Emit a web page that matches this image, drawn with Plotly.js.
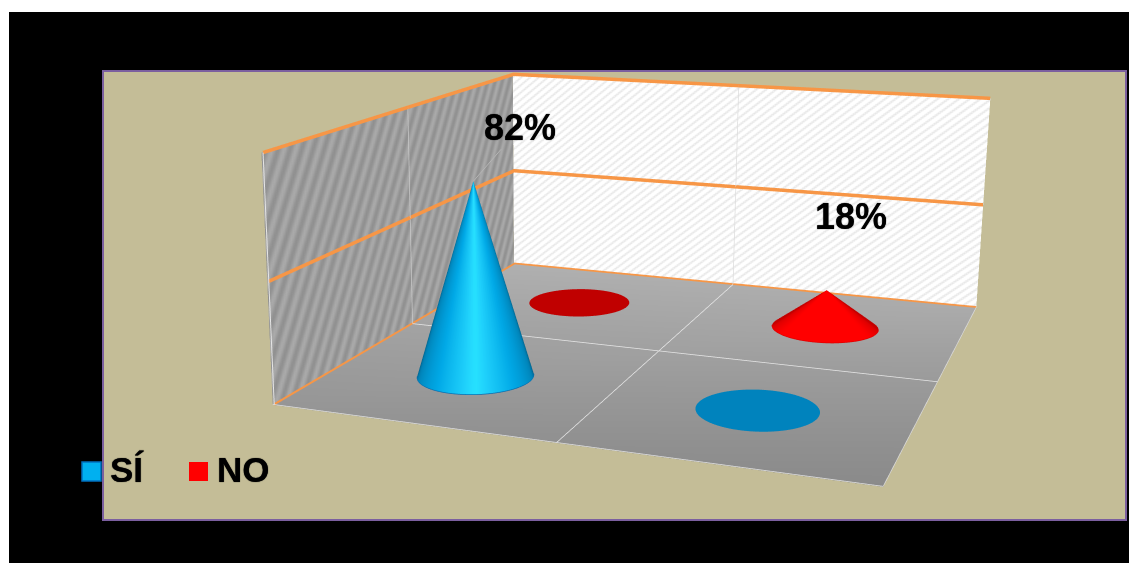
<!DOCTYPE html>
<html><head><meta charset="utf-8">
<script src="https://cdn.plot.ly/plotly-3.0.1.min.js"></script>
<style>
html,body{margin:0;padding:0;width:1129px;height:563px;overflow:hidden;background:#fff}
#chart{position:absolute;left:-149px;top:-399px;width:1400px;height:1359px}
</style></head><body><div id="chart"></div>
<script>
// ---- chart data ----
const seriesNames = ['SÍ', 'NO'];
const siValues = [82, 0];
const noValues = [0, 18];
const categoryCentres = [0.5, 1.5];
const seriesRows = [0.5, 1.5];       // SÍ = front row, NO = back row
const axisMax = 100;
const gridStep = 50;

// ---- page frame (the gl view is wider than the window to get the long lens) ----
const W = 1400, H = 1359, L = -149, T = -399;
const px = x => (x - L) / W;
const py = y => 1 - (y - T) / H;

const eyeData = {x: 2.708, y: -4.287};
const RX = 0.2, RY = 0.204, SEG = 96;
const traces = [];

function hex(c){return [parseInt(c.slice(1,3),16),parseInt(c.slice(3,5),16),parseInt(c.slice(5,7),16)];}
function ramp(stops,t){
  for(let i=1;i<stops.length;i++){ if(t<=stops[i][0]){
    const a=stops[i-1],b=stops[i],k=(t-a[0])/(b[0]-a[0]||1),A=hex(a[1]),B=hex(b[1]);
    return 'rgb('+A.map((v,j)=>Math.round(v+(B[j]-v)*k)).join(',')+')';}}
  return stops[stops.length-1][1];
}
const flatLight={ambient:1,diffuse:0,specular:0,roughness:1,fresnel:0};

function wall(xf,yf,valf,nu,nv,scale){
  const X=[],Y=[],Z=[],C=[];
  for(let j=0;j<=nv;j++){const xr=[],yr=[],zr=[],cr=[];
    for(let i=0;i<=nu;i++){const u=i/nu,v=j/nv;
      xr.push(xf(u));yr.push(yf(u));zr.push(v*axisMax);cr.push(valf(u,v));}
    X.push(xr);Y.push(yr);Z.push(zr);C.push(cr);}
  traces.push({type:'surface',x:X,y:Y,z:Z,surfacecolor:C,cmin:0,cmax:1,colorscale:scale,
    showscale:false,hoverinfo:'skip',lighting:flatLight});
}
// left wall, dark hatch
wall(u=>0,u=>2*u,(u,v)=>0.5+0.5*Math.sin(2*Math.PI*(u*245-0.35*v*215)/10),140,110,
  [[0,'#8f8f8f'],[1,'#ababab']]);
// back wall, light hatch
wall(u=>2*u,u=>2,(u,v)=>0.5+0.5*Math.sin(2*Math.PI*(u*470-1.2*v*200)/9),300,120,
  [[0,'#e2e2e2'],[0.55,'#ffffff'],[1,'#ffffff']]);
// floor
traces.push({type:'mesh3d',x:[0,2,0,2],y:[2,2,0,0],z:[0,0,0,0],i:[0,1],j:[1,3],k:[2,2],
  vertexcolor:['#b0b0b0','#ababab','#969696','#8a8a8a'],lighting:flatLight,hoverinfo:'skip',flatshading:false});

function line(xs,ys,zs,color,width){
  traces.push({type:'scatter3d',mode:'lines',x:xs,y:ys,z:zs,line:{color:color,width:width},
    hoverinfo:'skip',showlegend:false});
}
const e=0.006, f=0.25;
// floor grid and edges
line([1,1],[2-e,0],[f,f],'#e6e6e6',1.5);
line([0,2],[1,1],[f,f],'#e6e6e6',1.5);
line([0,2],[0,0],[f,f],'#e0e0e0',1.5);
line([2,2],[0,2],[f,f],'#d8d8d8',1.5);
// wall verticals
line([e,e],[1,1],[0,axisMax],'#c8c8c8',1.5);
line([1,1],[2-e,2-e],[0,axisMax],'#dddddd',1.5);
line([e,e],[0,0],[0,axisMax],'#e4e4e4',2);
// orange gridlines
for(let z=0;z<=axisMax;z+=gridStep){
  const w=z===0?5:7, zz=z===0?f:z;
  line([e,e,2],[0,2-e,2-e],[zz,zz,zz],'#f79646',w);
}

function disc(cx,cy,color){
  const X=[cx],Y=[cy],Z=[0.5],I=[],J=[],K=[];
  for(let s=0;s<SEG;s++){const a=2*Math.PI*s/SEG;
    X.push(cx+RX*Math.cos(a));Y.push(cy+RY*Math.sin(a));Z.push(0.5);
    I.push(0);J.push(s+1);K.push((s+1)%SEG+1);}
  traces.push({type:'mesh3d',x:X,y:Y,z:Z,i:I,j:J,k:K,color:color,lighting:flatLight,hoverinfo:'skip'});
}
function cone(cx,cy,val,stops,edge){
  const X=[],Y=[],Z=[],I=[],J=[],K=[],C=[];
  const toEye=Math.atan2(eyeData.y-cy,eyeData.x-cx);
  for(let s=0;s<=SEG;s++){const a=2*Math.PI*s/SEG;
    let d=Math.abs(Math.atan2(Math.sin(a-toEye),Math.cos(a-toEye)))/(Math.PI/2);
    const col=ramp(stops,Math.min(1,d));
    X.push(cx+RX*Math.cos(a),cx);Y.push(cy+RY*Math.sin(a),cy);Z.push(0.5,val);C.push(col,col);
    if(s<SEG){const n=2*s;I.push(n,n+2);J.push(n+2,n+3);K.push(n+1,n+1);}
  }
  traces.push({type:'mesh3d',x:X,y:Y,z:Z,i:I,j:J,k:K,vertexcolor:C,lighting:flatLight,hoverinfo:'skip'});
  const ex=[],ey=[],ez=[];
  for(let s=0;s<=SEG;s++){const a=2*Math.PI*s/SEG;
    const q=Math.abs(Math.atan2(Math.sin(a-toEye),Math.cos(a-toEye)));
    if(q<=Math.PI/2+0.05){ex.push(cx+RX*Math.cos(a));ey.push(cy+RY*Math.sin(a));ez.push(0.6);}
    else{ex.push(null);ey.push(null);ez.push(null);}
  }
  line(ex,ey,ez,edge,1.5);
}
const blueStops=[[0,'#27e2ff'],[0.12,'#1fd0fb'],[0.45,'#00a8e6'],[0.85,'#0083b8'],[1,'#00618a']];
const redStops=[[0,'#ff0000'],[0.6,'#ff0000'],[0.92,'#dd0000'],[1,'#c40000']];
const seriesValues=[siValues,noValues];
const seriesStops=[blueStops,redStops];
const discColours=['#0083bd','#c00000'];
const edgeColours=['#0a6fb0','#e00000'];
const sceneNotes=[];
seriesValues.forEach((vals,r)=>vals.forEach((v,c)=>{
  if(v>0){
    cone(categoryCentres[c],seriesRows[r],v,seriesStops[r],edgeColours[r]);
  } else disc(categoryCentres[c],seriesRows[r],discColours[r]);
}));
const heavy='0 0 1px #000';
const labelFont={family:'Liberation Sans, Arial, sans-serif',size:36,color:'#000',shadow:heavy};
sceneNotes.push({x:categoryCentres[0],y:seriesRows[0],z:siValues[0],text:'<b>'+siValues[0]+'%</b>',
  font:labelFont,showarrow:true,arrowhead:0,arrowwidth:1,arrowcolor:'#b5b5b5',ax:47,ay:-54,
  xanchor:'center',yanchor:'middle'});
sceneNotes.push({x:categoryCentres[1],y:seriesRows[1],z:noValues[1],text:'<b>'+noValues[1]+'%</b>',
  font:labelFont,showarrow:false,xshift:24,yshift:74,xanchor:'center',yanchor:'middle'});

const hidden={visible:false,showgrid:false,zeroline:false,showbackground:false,showticklabels:false,
  showspikes:false,autorange:false};
const legendFont={family:'Liberation Sans, Arial, sans-serif',size:35,color:'#000',shadow:heavy};
const layout={
  width:W,height:H,margin:{l:0,r:0,t:0,b:0},paper_bgcolor:'#fff',showlegend:false,
  scene:{
    domain:{x:[0,1],y:[0,1]},bgcolor:'rgba(0,0,0,0)',aspectmode:'manual',
    aspectratio:{x:1,y:1.035,z:0.42},
    xaxis:Object.assign({range:[0,2]},hidden),
    yaxis:Object.assign({range:[0,2]},hidden),
    zaxis:Object.assign({range:[0,axisMax]},hidden),
    camera:{projection:{type:'perspective'},eye:{x:0.854,y:-2.736,z:0.662},
      center:{x:-0.199,y:-0.030,z:-0.088},up:{x:0.012,y:0,z:1}},
    annotations:sceneNotes
  },
  shapes:[
    {type:'rect',xref:'paper',yref:'paper',x0:px(9),x1:px(1135),y0:py(12),y1:py(570),fillcolor:'#000',line:{width:0},layer:'below'},
    {type:'rect',xref:'paper',yref:'paper',x0:px(103),x1:px(1126),y0:py(71),y1:py(520),fillcolor:'#c4bd97',line:{color:'#7b5f9f',width:2},layer:'below'},
    {type:'rect',xref:'paper',yref:'paper',x0:px(82),x1:px(101),y0:py(462),y1:py(481),fillcolor:'#00b0f0',line:{color:'#0070c0',width:1.5},layer:'below'},
    {type:'rect',xref:'paper',yref:'paper',x0:px(189),x1:px(208),y0:py(462),y1:py(481),fillcolor:'#ff0000',line:{width:0},layer:'below'}
  ],
  annotations:[
    {xref:'paper',yref:'paper',x:px(108),y:py(469),xanchor:'left',yanchor:'middle',showarrow:false,text:'<b>'+seriesNames[0]+'</b>',font:legendFont},
    {xref:'paper',yref:'paper',x:px(215),y:py(469),xanchor:'left',yanchor:'middle',showarrow:false,text:'<b>'+seriesNames[1]+'</b>',font:legendFont}
  ]
};
Plotly.newPlot('chart',traces,layout,{displayModeBar:false});
</script></body></html>
